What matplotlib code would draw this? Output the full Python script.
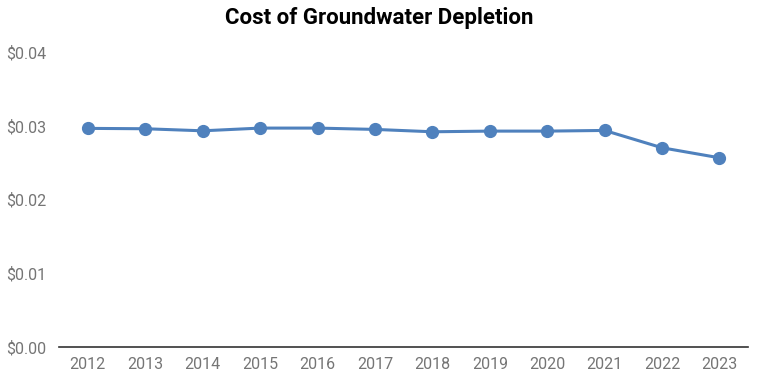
import matplotlib
matplotlib.use('Agg')
import matplotlib.pyplot as plt
from matplotlib.ticker import FuncFormatter

years = ['2012', '2013', '2014', '2015', '2016', '2017', '2018', '2019', '2020', '2021', '2022', '2023']
cost = [0.02966, 0.02961, 0.02933, 0.02970, 0.02970, 0.02952, 0.02920, 0.02929, 0.02929, 0.02938, 0.02703, 0.02567]
yticks = [0.00, 0.01, 0.02, 0.03, 0.04]

plt.rcParams['font.family'] = ['Roboto', 'DejaVu Sans']

fig = plt.figure(figsize=(7.58, 3.78), dpi=100)
ax = fig.add_axes([0.078, 0.082, 0.909, 0.780])

x = list(range(len(years)))
ax.plot(x, cost, color='#4f81bd', linewidth=2.2, marker='o', markersize=8.5)

ax.set_xlim(-0.5, len(years) - 0.5)
ax.set_ylim(0, 0.04)
ax.set_xticks(x)
ax.set_xticklabels(years)
ax.set_yticks(yticks)
ax.yaxis.set_major_formatter(FuncFormatter(lambda v, p: '${:.2f}'.format(v)))

for s in ['top', 'right', 'left']:
	ax.spines[s].set_visible(False)
ax.spines['bottom'].set_color('#333333')
ax.spines['bottom'].set_linewidth(1.2)
ax.tick_params(axis='both', length=0, labelsize=11.5, labelcolor='#757575')
ax.tick_params(axis='x', pad=7)
ax.tick_params(axis='y', pad=9)

fig.text(0.5, 0.952, 'Cost of Groundwater Depletion', ha='center', va='center', fontsize=16, fontweight='bold')

fig.savefig('out.png', dpi=100)
